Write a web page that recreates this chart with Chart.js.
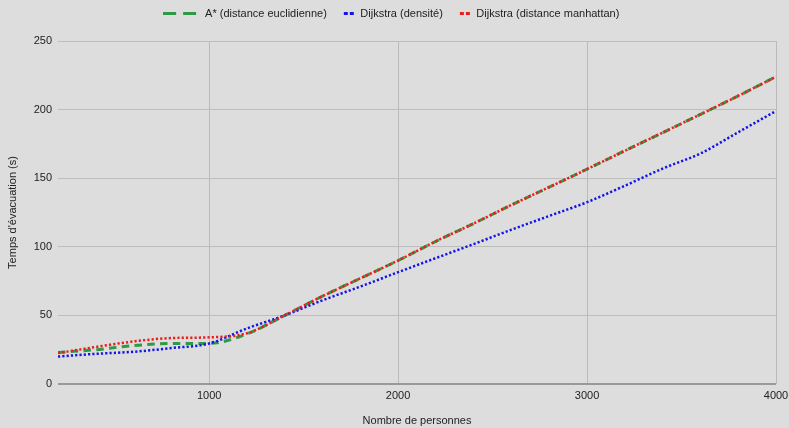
<!DOCTYPE html>
<html>
<head>
<meta charset="utf-8">
<script src="https://cdn.jsdelivr.net/npm/chart.js@4/dist/chart.umd.min.js"></script>
<style>
  html, body { margin: 0; padding: 0; background: #dddddd; }
  canvas { display: block; }
</style>
</head>
<body>
<canvas id="c" width="789" height="428"></canvas>
<script>
// ---- Data ----
const nombrePersonnes = [200, 400, 600, 800, 1000, 1200, 1400, 1600, 1800, 2000, 2200, 2400, 2600, 2800, 3000, 3200, 3400, 3600, 3800, 4000];
const aStarEuclidienne = [23, 25, 28, 29.5, 29.6, 36.5, 50, 64, 77, 90, 104, 117, 130.5, 143.5, 156.6, 170, 183.2, 196.5, 210, 224];
const dijkstraDensite = [20, 22, 23.5, 26.2, 29.5, 40.5, 50, 61, 71, 81.5, 91.8, 102, 112.5, 122.5, 132.5, 144.5, 157, 168, 183.5, 199];
const dijkstraManhattan = [22.5, 27, 31, 33.5, 34, 37, 50, 64, 77, 90, 104, 117, 130.5, 143.5, 156.6, 170, 183.2, 196.5, 210, 224];
const seriesNames = ['A* (distance euclidienne)', 'Dijkstra (densité)', 'Dijkstra (distance manhattan)'];
const xTickValues = [1000, 2000, 3000, 4000];
const yTickValues = [0, 50, 100, 150, 200, 250];
const xTitle = 'Nombre de personnes';
const yTitle = "Temps d'évacuation (s)";

const GREEN = '#2f9a45';
const BLUE = '#1414e6';
const RED = '#ee1c1c';

function toPoints(ys) { return nombrePersonnes.map((x, i) => ({ x: x, y: ys[i] })); }

// legend marker images
function dashMarker(color) {
  const c = document.createElement('canvas');
  c.width = 53; c.height = 3;
  const g = c.getContext('2d');
  g.fillStyle = color;
  g.fillRect(0, 0, 13, 3);
  g.fillRect(20, 0, 13, 3);
  return c;
}
function dotMarker(color) {
  const c = document.createElement('canvas');
  c.width = 20; c.height = 3;
  const g = c.getContext('2d');
  g.fillStyle = color;
  g.fillRect(9, 0, 4, 3);
  g.fillRect(15, 0, 4, 3);
  return c;
}

const fixLegend = {
  id: 'fixLegend',
  afterInit(chart) {
    const lg = chart.legend;
    const fit = lg.fit.bind(lg);
    lg.fit = function () { fit(); this.height = 41; };
  },
  afterLayout(chart) {
    chart.legend.left += 5;
    chart.legend.right += 5;
  }
};

const font11 = { family: "'Liberation Sans', Arial, sans-serif", size: 11 };

new Chart(document.getElementById('c'), {
  type: 'line',
  data: {
    datasets: [
      {
        label: seriesNames[0],
        data: toPoints(aStarEuclidienne),
        borderColor: GREEN,
        backgroundColor: GREEN,
        borderWidth: 3,
        borderDash: [7.5, 5.3],
        pointStyle: dashMarker(GREEN),
        order: 2
      },
      {
        label: seriesNames[1],
        data: toPoints(dijkstraDensite),
        borderColor: BLUE,
        backgroundColor: BLUE,
        borderWidth: 2.5,
        borderDash: [2.2, 2.1],
        pointStyle: dotMarker(BLUE),
        order: 1
      },
      {
        label: seriesNames[2],
        data: toPoints(dijkstraManhattan),
        borderColor: RED,
        backgroundColor: RED,
        borderWidth: 2.5,
        borderDash: [2.2, 2.1],
        pointStyle: dotMarker(RED),
        order: 0
      }
    ]
  },
  options: {
    responsive: false,
    devicePixelRatio: 1,
    animation: false,
    layout: { padding: 0 },
    elements: {
      point: { radius: 0, hoverRadius: 0 },
      line: { cubicInterpolationMode: 'monotone', fill: false, borderCapStyle: 'butt' }
    },
    plugins: {
      tooltip: { enabled: false },
      legend: {
        position: 'top',
        align: 'center',
        labels: {
          usePointStyle: true,
          pointStyleWidth: 20,
          boxWidth: 20,
          boxHeight: 11,
          padding: 8,
          color: '#222222',
          font: font11,
          sort: (a, b) => a.datasetIndex - b.datasetIndex
        }
      }
    },
    scales: {
      x: {
        type: 'linear',
        min: 200,
        max: 4000,
        afterBuildTicks: (s) => { s.ticks = xTickValues.map(v => ({ value: v })); },
        afterFit: (s) => { s.height = 44; s.paddingRight = 13; },
        ticks: { color: '#222222', font: font11, padding: 5, maxRotation: 0, autoSkip: false, callback: (v) => String(v) },
        grid: { color: '#bababa', lineWidth: 1, drawTicks: false },
        border: { display: false },
        title: { display: true, text: xTitle, color: '#222222', font: font11, padding: { top: 0, bottom: 0 } }
      },
      y: {
        min: 0,
        max: 250,
        afterBuildTicks: (s) => { s.ticks = yTickValues.map(v => ({ value: v })); },
        afterFit: (s) => { s.width = 58; },
        ticks: { color: '#222222', font: font11, padding: 6, callback: (v) => String(v) },
        grid: {
          color: (ctx) => (ctx.tick && ctx.tick.value === 0 ? '#999999' : '#bdbdbd'),
          lineWidth: (ctx) => (ctx.tick && ctx.tick.value === 0 ? 2 : 1),
          drawTicks: false
        },
        border: { display: false },
        title: { display: true, text: yTitle, color: '#222222', font: font11, padding: { top: 6, bottom: 0 } }
      }
    }
  },
  plugins: [fixLegend]
});
</script>
</body>
</html>
